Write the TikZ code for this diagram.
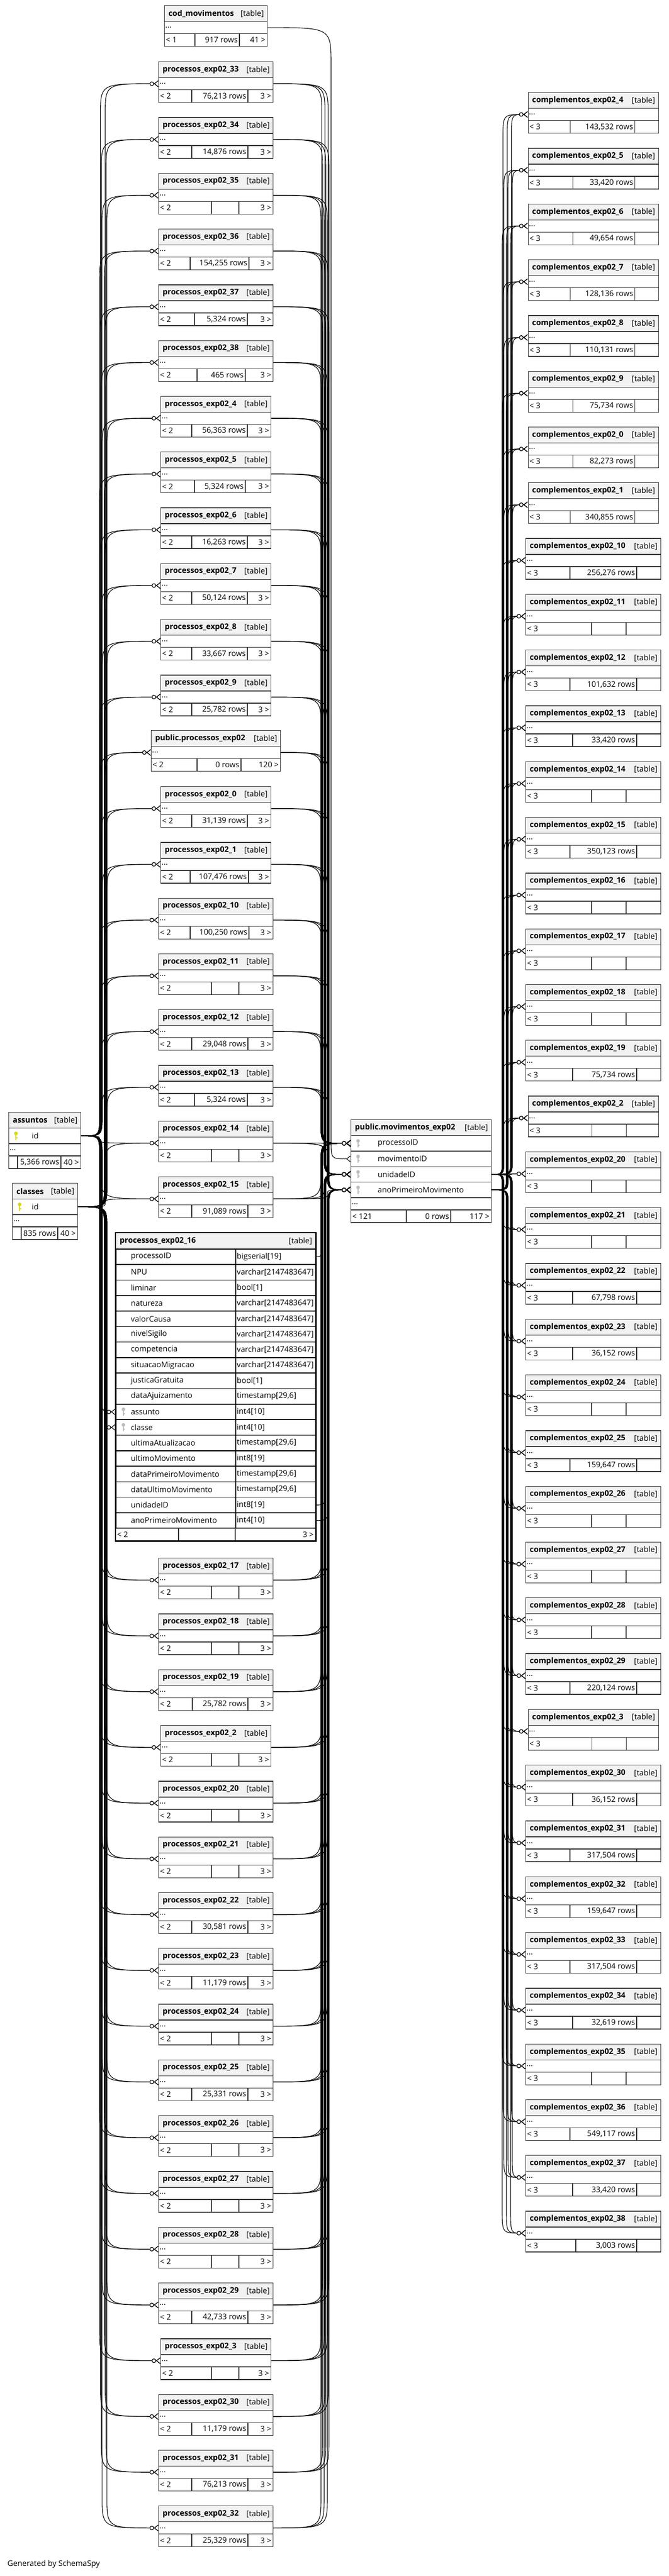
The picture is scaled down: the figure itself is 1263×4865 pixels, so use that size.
\documentclass[tikz,border=0pt]{standalone}
\usepackage{fontspec}
\setmainfont{Open Sans}
\usetikzlibrary{calc,arrows.meta,backgrounds}

\definecolor{tblline}{HTML}{333333}
\definecolor{headfill}{HTML}{F2F2F2}
\definecolor{pkcolor}{HTML}{D8D800}
\definecolor{fkcolor}{HTML}{BDBDBD}

\newcommand{\tblfont}{\fontsize{14.67}{17}\selectfont}

\tikzset{   tcell/.style={draw=tblline,line width=1.3pt,fill=white,anchor=north west,inner sep=0pt,minimum height=24pt},
            thead/.style={tcell,fill=headfill,minimum height=30pt},
            tdots/.style={tcell,minimum height=23pt},
            tcellbig/.style={tcell,draw=black,line width=1.6pt,minimum height=29.3pt},
            tsep/.style={draw=tblline,line width=1.3pt},
            ttext/.style={inner sep=0pt,font=\tblfont},
            tbold/.style={inner sep=0pt,font=\tblfont\bfseries},
            fk/.style={line width=1.1pt,-{Circle[fill=white,length=8pt] Straight Barb[reversed,length=7pt,width=11pt]}},
            fkone/.style={line width=1.1pt,-{Straight Barb[reversed,length=7pt,width=11pt]}},
}

% id, x, y, width, title
\newcommand{\tblhead}[5]{%
    \node[thead,minimum width=#4*1pt] (#1-t) at (#2,#3) {};
    \node[tbold,anchor=west] (#1-tn) at ([xshift=8pt]#1-t.west) {#5};
    \node[ttext,anchor=east] (#1-tg) at ([xshift=-7pt]#1-t.east) {[table]};
}
% id, x, y, width
\newcommand{\tbldots}[4]{%
    \node[tdots,minimum width=#4*1pt] (#1) at (#2,#3) {};
    \node[ttext,anchor=west] (#1-d) at ([xshift=2pt]#1.west) {...};
}
% id, x, y, width, left, rows, right, dividers
\newcommand{\tblfoot}[8]{%
    \node[tcell,minimum width=#4*1pt] (#1-b) at (#2,#3) {};
    \node[ttext,anchor=west] (#1-l) at ([xshift=3pt]#1-b.west) {#5};
    \node[ttext,anchor=east] (#1-r) at ([xshift=-4pt]#1-b.east) {#7};
    \foreach \ca/\cb in {#8} {
        \draw[tsep] ([xshift=\ca pt]#1-b.north west) -- ([xshift=\ca pt]#1-b.south west);
        \draw[tsep] ([xshift=\cb pt]#1-b.north west) -- ([xshift=\cb pt]#1-b.south west);
        \node[ttext,anchor=east] (#1-n) at ([xshift=\cb pt-3pt]#1-b.west) {#6};
    }
}
% small table: head, dots row, foot
\newcommand{\tblbox}[9]{%
    \tblhead{#1}{#2}{#3}{#4}{#5}
    \tbldots{#1}{#2}{#3+30}{#4}
    \tblfoot{#1}{#2}{#3+53}{#4}{#6}{#7}{#8}{#9}
}
% x, y (row centre), colour
\newcommand{\keyicon}[3]{%
    \fill[#3] (#1,#2-4) circle[radius=3.4pt];
    \fill[#3] (#1-1.2,#2-4) rectangle (#1+1.2,#2+8);
    \fill[#3] (#1,#2+3) rectangle (#1+3,#2+5);
}
% source, target, bus x, bend at source, bend at target, style
\newcommand{\fkpath}[6]{%
    \draw[#6] let \p1=(#1), \p2=(#2),
        \n1={(\y2<\y1 ? -1 : 1)*min(#4,abs(\y2-\y1)/2)},
        \n2={(\y2<\y1 ? -1 : 1)*min(#5,abs(\y2-\y1)/2)} in
        (\p1) .. controls ({#3*1pt},\y1) .. ({#3*1pt},{\y1+\n1}) -- ({#3*1pt},{\y2-\n2}) .. controls ({#3*1pt},\y2) .. (\p2);
}

\begin{document}
\begin{tikzpicture}[x=1pt,y=-1pt]
    \useasboundingbox (0,0) rectangle (1263,4865);

    % left column
    \tblbox{cod}{310}{10}{194}{cod\_movimentos}{< 1}{917 rows}{41 >}{58/142}
    \foreach \s/\r/\w/\da/\db [count=\k from 0] in {33/{76,213 rows}/216/63/169, 34/{14,876 rows}/216/63/169,
            35/{}/216/100/152, 36/{154,255 rows}/216/60/171, 37/{5,324 rows}/216/68/168, 38/{465 rows}/216/73/164,
            4/{56,363 rows}/208/59/164, 5/{5,324 rows}/208/64/160, 6/{16,263 rows}/208/59/164,
            7/{50,124 rows}/208/59/164, 8/{33,667 rows}/208/59/164, 9/{25,782 rows}/208/59/164} {
        \pgfmathsetmacro{\ty}{116+\k*105.3}
        \pgfmathsetmacro{\tx}{407-\w/2}
        \tblbox{p\s}{\tx}{\ty}{\w}{processos\_exp02\_\s}{< 2}{\r}{3 >}{\da/\db}
    }
    \tblbox{ppub}{285}{1379}{244}{public.processos\_exp02}{< 2}{0 rows}{120 >}{87/170}
    \foreach \s/\r/\w/\da/\db [count=\k from 13] in {0/{31,139 rows}/208/59/164, 1/{107,476 rows}/208/56/166,
            10/{100,250 rows}/216/60/171, 11/{}/216/100/152, 12/{29,048 rows}/216/63/169,
            13/{5,324 rows}/216/68/168, 14/{}/216/100/152, 15/{91,089 rows}/216/63/169} {
        \pgfmathsetmacro{\ty}{116+\k*105.3}
        \pgfmathsetmacro{\tx}{407-\w/2}
        \tblbox{p\s}{\tx}{\ty}{\w}{processos\_exp02\_\s}{< 2}{\r}{3 >}{\da/\db}
    }
    \foreach \s/\r/\w/\da/\db [count=\k from 0] in {17/{}/216/100/152, 18/{}/216/100/152, 19/{25,782 rows}/216/64/169,
            2/{}/208/96/148, 20/{}/216/100/152, 21/{}/216/100/152, 22/{30,581 rows}/216/63/169,
            23/{11,179 rows}/216/63/169, 24/{}/216/100/152, 25/{25,331 rows}/216/63/169, 26/{}/216/100/152,
            27/{}/216/100/152, 28/{}/216/100/152, 29/{42,733 rows}/216/63/169, 3/{}/208/96/148,
            30/{11,179 rows}/216/63/169, 31/{76,213 rows}/216/63/169, 32/{25,329 rows}/216/63/169} {
        \pgfmathsetmacro{\ty}{2942+\k*105.3}
        \pgfmathsetmacro{\tx}{407-\w/2}
        \tblbox{p\s}{\tx}{\ty}{\w}{processos\_exp02\_\s}{< 2}{\r}{3 >}{\da/\db}
    }

    % processos_exp02_16 with its columns
    \tblhead{p16}{218}{2328}{377}{processos\_exp02\_16}
    \foreach \cn/\ct [count=\i from 0] in {processoID/bigserial[19], NPU/varchar[2147483647], liminar/bool[1],
            natureza/varchar[2147483647], valorCausa/varchar[2147483647], nivelSigilo/varchar[2147483647],
            competencia/varchar[2147483647], situacaoMigracao/varchar[2147483647], justicaGratuita/bool[1],
            dataAjuizamento/{timestamp[29,6]}, assunto/int4[10], classe/int4[10], ultimaAtualizacao/{timestamp[29,6]},
            ultimoMovimento/int8[19], dataPrimeiroMovimento/{timestamp[29,6]}, dataUltimoMovimento/{timestamp[29,6]},
            unidadeID/int8[19], anoPrimeiroMovimento/int4[10]} {
        \pgfmathsetmacro{\ry}{2358+\i*29.3}
        \node[tcellbig,minimum width=226pt] (p16-n\i) at (218,\ry) {};
        \node[tcellbig,minimum width=151pt] (p16-y\i) at (444,\ry) {};
        \node[ttext,anchor=west] (p16-nt\i) at ([xshift=29pt]p16-n\i.west) {\cn};
        \node[ttext,anchor=west] (p16-yt\i) at ([xshift=3pt]p16-y\i.west) {\ct};
    }
    \keyicon{233}{2665.6}{fkcolor}
    \keyicon{233}{2694.9}{fkcolor}
    \tblfoot{p16}{218}{2885.4}{377}{< 2}{}{3 >}{119/226}
    \draw[line width=2.6pt] (p16-t.north west) rectangle (p16-b.south east);

    % assuntos and classes
    \tblhead{ass}{16}{2100}{136}{assuntos}
    \node[tcell,minimum width=136pt,minimum height=29.3pt] (ass-id) at (16,2130) {};
    \node[ttext,anchor=west] (ass-idt) at ([xshift=44pt]ass-id.west) {id};
    \keyicon{30}{2144.6}{pkcolor}
    \tbldots{ass}{16}{2159.3}{136}
    \tblfoot{ass}{16}{2182.3}{136}{}{5,366 rows}{40 >}{17/99}

    \tblhead{cls}{23}{2234}{123}{classes}
    \node[tcell,minimum width=123pt,minimum height=29.3pt] (cls-id) at (23,2264) {};
    \node[ttext,anchor=west] (cls-idt) at ([xshift=37pt]cls-id.west) {id};
    \keyicon{37}{2278.6}{pkcolor}
    \tbldots{cls}{23}{2293.3}{123}
    \tblfoot{cls}{23}{2316.3}{123}{}{835 rows}{40 >}{17/86}

    % movimentos
    \tblhead{mov}{662}{2114}{265}{public.movimentos\_exp02}
    \foreach \cn/\nm [count=\i from 0] in {pid/processoID, mid/movimentoID, uid/unidadeID, ano/anoPrimeiroMovimento} {
        \pgfmathsetmacro{\ry}{2144+\i*29.3}
        \node[tcell,minimum width=265pt,minimum height=29.3pt] (mov-\cn) at (662,\ry) {};
        \node[ttext,anchor=west] (mov-\cn-t) at ([xshift=51pt]mov-\cn.west) {\nm};
        \keyicon{676}{\ry+14.65}{fkcolor}
    }
    \tbldots{mov}{662}{2261.2}{265}
    \tblfoot{mov}{662}{2284.2}{265}{< 121}{0 rows}{117 >}{105/189}

    % right column
    \foreach \s/\r/\w/\da/\db [count=\k from 0] in {4/{143,532 rows}/246/80/202, 5/{33,420 rows}/246/85/202,
            6/{49,654 rows}/246/85/202, 7/{128,136 rows}/246/80/202, 8/{110,131 rows}/246/80/202,
            9/{75,734 rows}/246/85/202, 0/{82,273 rows}/246/85/202, 1/{340,855 rows}/246/80/202,
            10/{256,276 rows}/255/84/210, 11/{}/255/125/190, 12/{101,632 rows}/255/84/210,
            13/{33,420 rows}/255/89/210, 14/{}/255/125/190, 15/{350,123 rows}/255/84/210, 16/{}/255/125/190,
            17/{}/255/125/190, 18/{}/255/125/190, 19/{75,734 rows}/255/89/210, 2/{}/246/121/186,
            20/{}/255/125/190, 21/{}/255/125/190, 22/{67,798 rows}/255/89/210, 23/{36,152 rows}/255/89/210,
            24/{}/255/125/190, 25/{159,647 rows}/255/84/210, 26/{}/255/125/190, 27/{}/255/125/190,
            28/{}/255/125/190, 29/{220,124 rows}/255/84/210, 3/{}/246/121/186, 30/{36,152 rows}/255/89/210,
            31/{317,504 rows}/255/84/210, 32/{159,647 rows}/255/84/210, 33/{317,504 rows}/255/84/210,
            34/{32,619 rows}/255/89/210, 35/{}/255/125/190, 36/{549,117 rows}/255/84/210,
            37/{33,420 rows}/255/89/210, 38/{3,003 rows}/255/95/210} {
        \pgfmathsetmacro{\ty}{174+\k*105.3}
        \pgfmathsetmacro{\tx}{1119.5-\w/2}
        \tblbox{c\s}{\tx}{\ty}{\w}{complementos\_exp02\_\s}{< 3}{\r}{}{\da/\db}
    }

    \node[ttext,anchor=west] (gen) at (14,4843) {Generated by SchemaSpy};

    \begin{pgfonlayer}{background}
        % processos tables: parents on the left, child on the right
        \foreach \tb [count=\k] in {p33,p34,p35,p36,p37,p38,p4,p5,p6,p7,p8,p9,ppub,p0,p1,p10,p11,p12,p13,p14,p15,
                p17,p18,p19,p2,p20,p21,p22,p23,p24,p25,p26,p27,p28,p29,p3,p30,p31,p32} {
            \pgfmathsetmacro{\bx}{188+mod(\k,4)*1.6}
            \fkpath{ass-id.east}{\tb.west}{\bx}{40}{60}{fk}
            \pgfmathsetmacro{\bx}{197+mod(\k,4)*1.6}
            \fkpath{cls-id.east}{\tb.west}{\bx}{40}{60}{fk}
            \pgfmathsetmacro{\bx}{606+mod(\k,3)*1.5}
            \fkpath{\tb.east}{mov-pid.west}{\bx}{60}{35}{fk}
            \pgfmathsetmacro{\bx}{612+mod(\k,3)*1.5}
            \fkpath{\tb.east}{mov-uid.west}{\bx}{60}{35}{fk}
            \pgfmathsetmacro{\bx}{618+mod(\k,3)*1.5}
            \fkpath{\tb.east}{mov-ano.west}{\bx}{60}{35}{fk}
        }
        \fkpath{ass-id.east}{p16-n10.west}{192}{40}{40}{fk}
        \fkpath{cls-id.east}{p16-n11.west}{199}{40}{40}{fk}
        \fkpath{p16-y0.east}{mov-pid.west}{609}{60}{35}{fk}
        \fkpath{p16-y16.east}{mov-uid.west}{615}{60}{35}{fk}
        \fkpath{p16-y17.east}{mov-ano.west}{621}{60}{35}{fk}
        \fkpath{cod.east}{mov-mid.west}{625}{70}{35}{fkone}

        % complementos tables
        \foreach \tb [count=\k] in {c4,c5,c6,c7,c8,c9,c0,c1,c10,c11,c12,c13,c14,c15,c16,c17,c18,c19,c2,
                c20,c21,c22,c23,c24,c25,c26,c27,c28,c29,c3,c30,c31,c32,c33,c34,c35,c36,c37,c38} {
            \pgfmathsetmacro{\bx}{948+mod(\k,3)*1.5}
            \fkpath{mov-uid.east}{\tb.west}{\bx}{25}{45}{fk}
            \pgfmathsetmacro{\bx}{956+mod(\k,3)*1.5}
            \fkpath{mov-ano.east}{\tb.west}{\bx}{25}{45}{fk}
            \pgfmathsetmacro{\bx}{964+mod(\k,3)*1.5}
            \fkpath{mov-uid.east}{\tb.west}{\bx}{25}{45}{fk}
        }
    \end{pgfonlayer}
\end{tikzpicture}
\end{document}
